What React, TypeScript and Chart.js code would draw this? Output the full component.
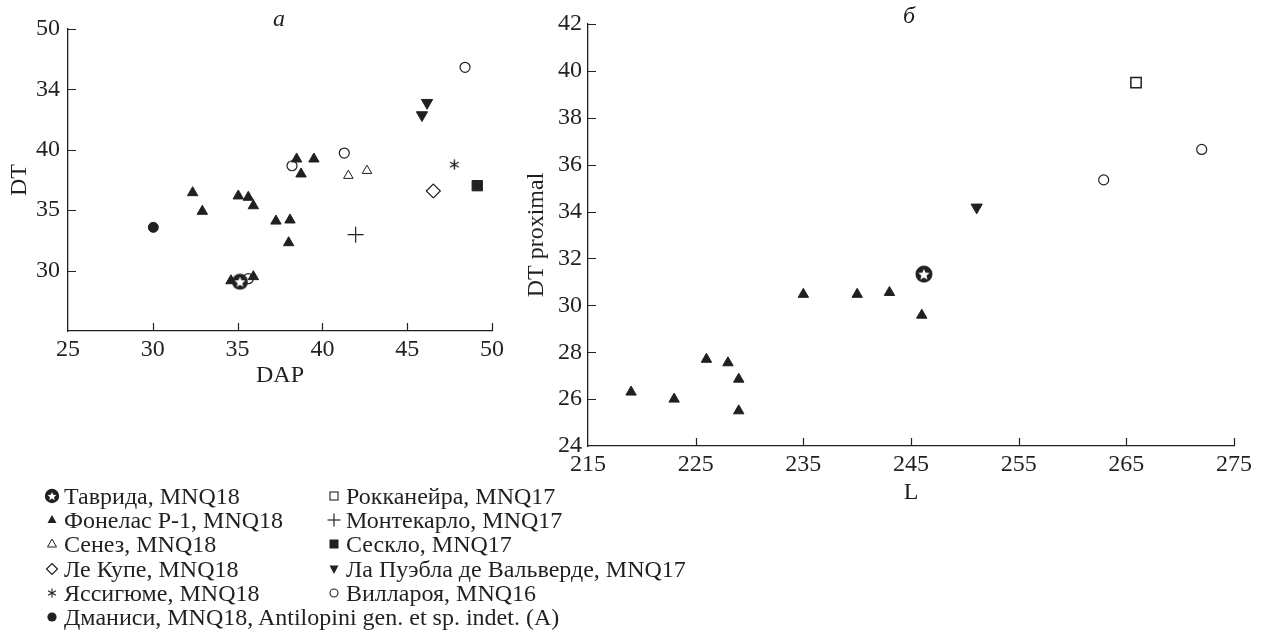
import React, { useEffect, useRef } from "react";
import { Chart, registerables } from "chart.js";

Chart.register(...registerables);

const INK = "#231f20";
const FONT = "'Liberation Serif', 'Times New Roman', serif";

// ---------- Panel a (DAP vs DT) ----------
const xTicksA = [25, 30, 35, 40, 45, 50];
const xTickLabelsA = ["25", "30", "35", "40", "45", "50"];
const yTicksA = [25, 30, 35, 40, 45, 50];
const yTickLabelsA = ["", "30", "35", "40", "34", "50"];

const tavridaAX = [35.14];
const tavridaAY = [29.08];
const fonelasAX = [32.35, 32.92, 35.04, 35.63, 35.93, 37.26, 38.09, 38.01, 38.48, 38.74, 39.5, 34.61, 35.93];
const fonelasAY = [36.45, 34.91, 36.18, 36.07, 35.37, 34.1, 34.19, 32.31, 39.24, 38.0, 39.24, 29.16, 29.5];
const senezAX = [41.53, 42.63];
const senezAY = [37.86, 38.27];
const leCoupetAX = [46.54];
const leCoupetAY = [36.59];
const yassigumeAX = [47.78];
const yassigumeAY = [38.77];
const dmanisiAX = [30.03];
const dmanisiAY = [33.58];
const montecarloAX = [41.96];
const montecarloAY = [32.97];
const seskloAX = [49.13];
const seskloAY = [37.03];
const pueblaAX = [46.17, 45.87];
const pueblaAY = [43.9, 42.88];
const villaroyaAX = [35.63, 38.21, 41.29, 48.41];
const villaroyaAY = [29.33, 38.68, 39.73, 46.83];

// ---------- Panel б (L vs DT proximal) ----------
const xTicksB = [215, 225, 235, 245, 255, 265, 275];
const xTickLabelsB = ["215", "225", "235", "245", "255", "265", "275"];
const yTicksB = [24, 26, 28, 30, 32, 34, 36, 38, 40, 42];
const yTickLabelsB = ["24", "26", "28", "30", "32", "34", "36", "38", "40", "42"];

const tavridaBX = [246.2];
const tavridaBY = [31.33];
const fonelasBX = [219, 223, 226, 228, 229, 229, 235, 240, 243, 246];
const fonelasBY = [26.3, 26.0, 27.7, 27.55, 26.85, 25.5, 30.47, 30.47, 30.55, 29.58];
const pueblaBX = [251.1];
const pueblaBY = [34.18];
const villaroyaBX = [262.9, 272];
const villaroyaBY = [35.35, 36.65];
const rokkaneyraBX = [265.9];
const rokkaneyraBY = [39.5];

// ---------- Legend ----------
const legendCol1 = [
  "Таврида, MNQ18",
  "Фонелас Р-1, MNQ18",
  "Сенез, MNQ18",
  "Ле Купе, MNQ18",
  "Яссигюме, MNQ18",
  "Дманиси, MNQ18, Antilopini gen. et sp. indet. (A)",
];
const legendMarks1 = ["tavrida", "triFill", "triOpen", "diamond", "asterisk", "dot"];
const legendCol2 = [
  "Рокканейра, MNQ17",
  "Монтекарло, MNQ17",
  "Сескло, MNQ17",
  "Ла Пуэбла де Вальверде, MNQ17",
  "Виллароя, MNQ16",
];
const legendMarks2 = ["squareOpen", "plus", "squareFill", "triDown", "circleOpen"];

const pts = (xs: number[], ys: number[]) => xs.map((x, i) => ({ x, y: ys[i] }));

function makeTavridaMarker(size: number) {
  const c = document.createElement("canvas");
  c.width = size;
  c.height = size;
  const ctx = c.getContext("2d")!;
  const r = size / 2;
  ctx.fillStyle = INK;
  ctx.beginPath();
  ctx.arc(r, r, r - 0.5, 0, Math.PI * 2);
  ctx.fill();
  ctx.fillStyle = "#ffffff";
  ctx.beginPath();
  const R = r * 0.66;
  const ri = R * 0.45;
  for (let i = 0; i < 10; i++) {
    const a = -Math.PI / 2 + (i * Math.PI) / 5;
    const rr = i % 2 === 0 ? R : ri;
    const px = r + rr * Math.cos(a);
    const py = r + 0.6 + rr * Math.sin(a);
    if (i === 0) ctx.moveTo(px, py);
    else ctx.lineTo(px, py);
  }
  ctx.closePath();
  ctx.fill();
  return c;
}

function makeAsteriskMarker(size: number) {
  const c = document.createElement("canvas");
  c.width = size;
  c.height = size;
  const ctx = c.getContext("2d")!;
  const r = size / 2;
  ctx.strokeStyle = INK;
  ctx.lineWidth = 1.4;
  ctx.lineCap = "round";
  ctx.beginPath();
  for (let i = 0; i < 3; i++) {
    const a = -Math.PI / 2 + (i * Math.PI) / 3;
    const L = r - 1;
    ctx.moveTo(r + L * Math.cos(a), r + L * Math.sin(a));
    ctx.lineTo(r - L * Math.cos(a), r - L * Math.sin(a));
  }
  ctx.stroke();
  return c;
}

const inwardTicks = {
  id: "inwardTicks",
  afterDraw(chart: any) {
    const { ctx, chartArea } = chart;
    const xs = chart.scales.x;
    const ys = chart.scales.y;
    ctx.save();
    ctx.strokeStyle = INK;
    ctx.lineWidth = 1.2;
    ctx.beginPath();
    xs.ticks.forEach((t: any) => {
      if (t.value === xs.min) return;
      const px = Math.round(xs.getPixelForValue(t.value)) + 0.5;
      ctx.moveTo(px, chartArea.bottom);
      ctx.lineTo(px, chartArea.bottom - 8);
    });
    ys.ticks.forEach((t: any) => {
      if (t.value === ys.min) return;
      const py = Math.round(ys.getPixelForValue(t.value)) + 0.5;
      ctx.moveTo(chartArea.left, py);
      ctx.lineTo(chartArea.left + 8, py);
    });
    ctx.stroke();
    ctx.restore();
  },
};

const panelLabel = {
  id: "panelLabel",
  afterDraw(chart: any, _args: any, opts: any) {
    const { ctx } = chart;
    ctx.save();
    ctx.fillStyle = INK;
    ctx.font = `italic 24px ${FONT}`;
    ctx.textAlign = "center";
    ctx.textBaseline = "middle";
    ctx.fillText(opts.text, opts.x, opts.y);
    ctx.restore();
  },
};

function axisOptions(
  ticks: number[],
  labels: string[],
  min: number,
  max: number,
  title: string,
  horizontal: boolean,
  fitSize: number,
  tickPad: number,
  titlePad: any
) {
  return {
    type: "linear",
    min,
    max,
    afterBuildTicks: (s: any) => {
      s.ticks = ticks.map((v) => ({ value: v }));
    },
    afterFit: (s: any) => {
      if (horizontal) s.height = fitSize;
      else s.width = fitSize;
    },
    ticks: {
      autoSkip: false,
      maxRotation: 0,
      minRotation: 0,
      padding: tickPad,
      color: INK,
      font: { family: FONT, size: 24 },
      callback: (v: any) => {
        const i = ticks.indexOf(Number(v));
        return i >= 0 ? labels[i] : "";
      },
    },
    grid: { display: false, drawTicks: false },
    border: { display: true, color: INK, width: 1.3 },
    title: {
      display: true,
      text: title,
      color: INK,
      font: { family: FONT, size: 24 },
      padding: titlePad,
    },
  };
}

const black = (style: any, radius: number, extra: any = {}) => ({
  pointStyle: style,
  pointRadius: radius,
  pointHoverRadius: radius,
  pointBackgroundColor: INK,
  pointBorderColor: INK,
  pointBorderWidth: 1,
  showLine: false,
  ...extra,
});
const open = (style: any, radius: number, extra: any = {}) => ({
  pointStyle: style,
  pointRadius: radius,
  pointHoverRadius: radius,
  pointBackgroundColor: "#ffffff",
  pointBorderColor: INK,
  pointBorderWidth: 1.2,
  showLine: false,
  ...extra,
});

function ChartA() {
  const ref = useRef<HTMLCanvasElement>(null);
  useEffect(() => {
    const star = makeTavridaMarker(17);
    const asterisk = makeAsteriskMarker(11);
    const chart = new Chart(ref.current!, {
      type: "scatter",
      data: {
        datasets: [
          { label: legendCol1[0], data: pts(tavridaAX, tavridaAY), ...black(star, 8) },
          { label: legendCol1[1], data: pts(fonelasAX, fonelasAY), ...black("triangle", 6) },
          { label: legendCol1[2], data: pts(senezAX, senezAY), ...open("triangle", 5.5, { pointBorderWidth: 1 }) },
          { label: legendCol1[3], data: pts(leCoupetAX, leCoupetAY), ...open("rectRot", 7) },
          { label: legendCol1[4], data: pts(yassigumeAX, yassigumeAY), ...black(asterisk, 5) },
          { label: legendCol1[5], data: pts(dmanisiAX, dmanisiAY), ...black("circle", 5) },
          { label: legendCol2[1], data: pts(montecarloAX, montecarloAY), ...black("cross", 8, { pointBorderWidth: 1.2 }) },
          { label: legendCol2[2], data: pts(seskloAX, seskloAY), ...black("rect", 7.3) },
          { label: legendCol2[3], data: pts(pueblaAX, pueblaAY), ...black("triangle", 6.5, { pointRotation: 180 }) },
          { label: legendCol2[4], data: pts(villaroyaAX, villaroyaAY), ...open("circle", 5) },
        ],
      },
      options: {
        responsive: false,
        animation: false,
        devicePixelRatio: 1,
        events: [],
        layout: { padding: { left: 0, top: 29, right: 48, bottom: 0 } },
        scales: {
          x: axisOptions(xTicksA, xTickLabelsA, 25, 50, "DAP", true, 69, 4, { top: 0, bottom: 10 }),
          y: axisOptions(yTicksA, yTickLabelsA, 25, 50, "DT", false, 68, 8, { top: 5, bottom: 0 }),
        },
        plugins: {
          legend: { display: false },
          tooltip: { enabled: false },
          panelLabel: { text: "a", x: 279, y: 20 },
        },
      } as any,
      plugins: [inwardTicks, panelLabel],
    });
    return () => chart.destroy();
  }, []);
  return (
    <canvas
      ref={ref}
      width={540}
      height={400}
      style={{ position: "absolute", left: 0, top: 0, width: 540, height: 400 }}
    />
  );
}

function ChartB() {
  const ref = useRef<HTMLCanvasElement>(null);
  useEffect(() => {
    const star = makeTavridaMarker(18);
    const chart = new Chart(ref.current!, {
      type: "scatter",
      data: {
        datasets: [
          { label: legendCol1[0], data: pts(tavridaBX, tavridaBY), ...black(star, 8) },
          { label: legendCol1[1], data: pts(fonelasBX, fonelasBY), ...black("triangle", 6) },
          { label: legendCol2[0], data: pts(rokkaneyraBX, rokkaneyraBY), ...open("rect", 7.3, { pointBorderWidth: 1.5 }) },
          { label: legendCol2[3], data: pts(pueblaBX, pueblaBY), ...black("triangle", 6.5, { pointRotation: 180 }) },
          { label: legendCol2[4], data: pts(villaroyaBX, villaroyaBY), ...open("circle", 5) },
        ],
      },
      options: {
        responsive: false,
        animation: false,
        devicePixelRatio: 1,
        events: [],
        layout: { padding: { left: 0, top: 24, right: 28, bottom: 0 } },
        scales: {
          x: axisOptions(xTicksB, xTickLabelsB, 215, 275, "L", true, 74, 4, { top: 0, bottom: 13 }),
          y: axisOptions(yTicksB, yTickLabelsB, 24, 42, "DT proximal", false, 78, 6, { top: 12, bottom: 0 }),
        },
        plugins: {
          legend: { display: false },
          tooltip: { enabled: false },
          panelLabel: { text: "б", x: 399, y: 17 },
        },
      } as any,
      plugins: [inwardTicks, panelLabel],
    });
    return () => chart.destroy();
  }, []);
  return (
    <canvas
      ref={ref}
      width={752}
      height={520}
      style={{ position: "absolute", left: 510, top: 0, width: 752, height: 520 }}
    />
  );
}

function Marker({ kind }: { kind: string }) {
  const s = 16;
  const c = s / 2;
  let el: any = null;
  switch (kind) {
    case "tavrida": {
      const p: string[] = [];
      for (let i = 0; i < 10; i++) {
        const a = -Math.PI / 2 + (i * Math.PI) / 5;
        const rr = i % 2 === 0 ? 4.6 : 2.1;
        p.push(`${c + rr * Math.cos(a)},${c + 0.5 + rr * Math.sin(a)}`);
      }
      el = (
        <g>
          <circle cx={c} cy={c} r={7.2} fill={INK} />
          <polygon points={p.join(" ")} fill="#fff" />
        </g>
      );
      break;
    }
    case "triFill":
      el = <polygon points={`${c},${c - 5} ${c + 4.5},${c + 3} ${c - 4.5},${c + 3}`} fill={INK} />;
      break;
    case "triOpen":
      el = <polygon points={`${c},${c - 5} ${c + 4.5},${c + 3} ${c - 4.5},${c + 3}`} fill="#fff" stroke={INK} strokeWidth={1} />;
      break;
    case "diamond":
      el = <polygon points={`${c},${c - 5.5} ${c + 5.5},${c} ${c},${c + 5.5} ${c - 5.5},${c}`} fill="#fff" stroke={INK} strokeWidth={1.2} />;
      break;
    case "asterisk":
      el = (
        <g stroke={INK} strokeWidth={1.1}>
          <line x1={c} y1={c - 4.5} x2={c} y2={c + 4.5} />
          <line x1={c - 3.9} y1={c - 2.25} x2={c + 3.9} y2={c + 2.25} />
          <line x1={c - 3.9} y1={c + 2.25} x2={c + 3.9} y2={c - 2.25} />
        </g>
      );
      break;
    case "dot":
      el = <circle cx={c} cy={c} r={4.6} fill={INK} />;
      break;
    case "squareOpen":
      el = <rect x={c - 4} y={c - 4} width={8} height={8} fill="#fff" stroke={INK} strokeWidth={1.1} />;
      break;
    case "plus":
      el = (
        <g stroke={INK} strokeWidth={1.2}>
          <line x1={c - 6.5} y1={c} x2={c + 6.5} y2={c} />
          <line x1={c} y1={c - 6.5} x2={c} y2={c + 6.5} />
        </g>
      );
      break;
    case "squareFill":
      el = <rect x={c - 4.5} y={c - 4.5} width={9} height={9} fill={INK} />;
      break;
    case "triDown":
      el = <polygon points={`${c - 4.5},${c - 3.5} ${c + 4.5},${c - 3.5} ${c},${c + 5}`} fill={INK} />;
      break;
    case "circleOpen":
      el = <circle cx={c} cy={c} r={4} fill="#fff" stroke={INK} strokeWidth={1.1} />;
      break;
  }
  return (
    <svg width={s} height={s} style={{ display: "block", flex: "none" }}>
      {el}
    </svg>
  );
}

function LegendColumn({ names, marks, left, top }: { names: string[]; marks: string[]; left: number; top: number }) {
  return (
    <div style={{ position: "absolute", left, top }}>
      {names.map((n, i) => (
        <div
          key={n}
          style={{
            display: "flex",
            alignItems: "center",
            height: 24.2,
            whiteSpace: "nowrap",
            fontFamily: FONT,
            fontSize: 24,
            lineHeight: "24px",
            color: INK,
          }}
        >
          <Marker kind={marks[i]} />
          <span style={{ marginLeft: 4 }}>{n}</span>
        </div>
      ))}
    </div>
  );
}

export default function App() {
  return (
    <div
      style={{
        position: "fixed",
        left: 0,
        top: 0,
        width: 1262,
        height: 633,
        background: "#ffffff",
        overflow: "hidden",
      }}
    >
      <ChartA />
      <ChartB />
      <LegendColumn names={legendCol1} marks={legendMarks1} left={44} top={484} />
      <LegendColumn names={legendCol2} marks={legendMarks2} left={326} top={484} />
    </div>
  );
}
